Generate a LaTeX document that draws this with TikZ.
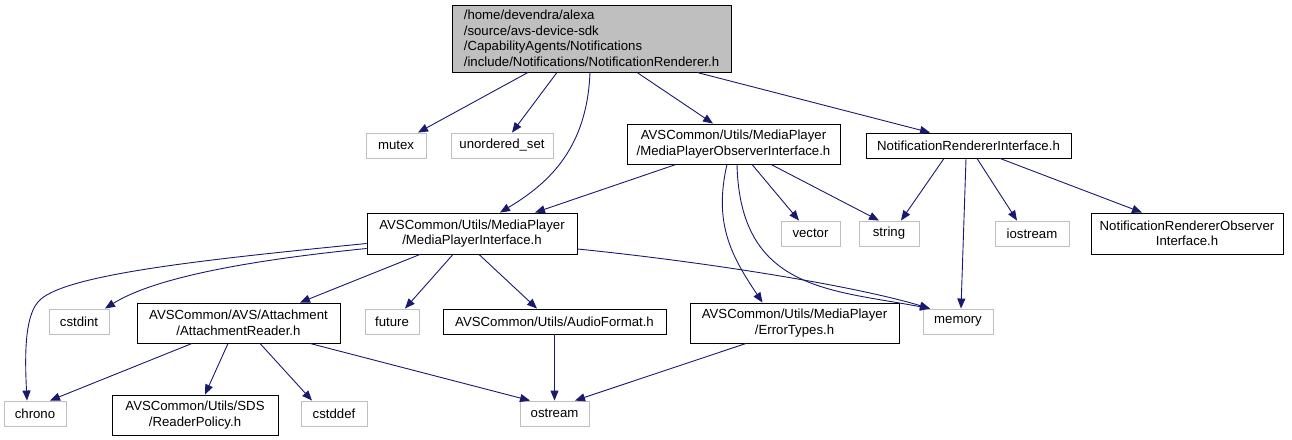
\documentclass[tikz,border=0pt]{standalone}
\usepackage{fontspec}
\setmainfont{Liberation Sans}
\usetikzlibrary{arrows.meta}
\definecolor{edgeblue}{HTML}{191970}
\definecolor{gborder}{HTML}{BFBFBF}
\definecolor{mainfill}{HTML}{BFBFBF}
\begin{document}
\begin{tikzpicture}[x=1pt,y=-1pt,
  box/.style={draw=black, line width=0.9pt, inner sep=0pt, align=center,
    font=\fontsize{13.2}{15.5}\selectfont},
  sys/.style={box, draw=gborder},
  dep/.style={draw=edgeblue, line width=0.9pt, -{Triangle[length=10pt,width=8pt]}}]
\useasboundingbox (0,0) rectangle (1292,439);

\node[box, fill=mainfill, align=left, minimum width=279pt, minimum height=67pt] (main) at (591.5,38.5)
  {/home/devendra/alexa\\/source/avs-device-sdk\\/CapabilityAgents/Notifications\\/include/Notifications/NotificationRenderer.h};

\node[sys, minimum width=60pt, minimum height=25pt] (mutex) at (396,145.5) {mutex};
\node[sys, minimum width=102pt, minimum height=25pt] (uset) at (502,145.5) {unordered\_set};
\node[box, minimum width=213pt, minimum height=40pt] (mpo) at (733.5,144) {AVSCommon/Utils/MediaPlayer\\/MediaPlayerObserverInterface.h};
\node[box, minimum width=205pt, minimum height=25pt] (nri) at (968.5,145.5) {NotificationRendererInterface.h};

\node[box, minimum width=210pt, minimum height=41pt] (mpi) at (472,233.5) {AVSCommon/Utils/MediaPlayer\\/MediaPlayerInterface.h};
\node[sys, minimum width=59pt, minimum height=25pt] (vector) at (810.5,233.5) {vector};
\node[sys, minimum width=60pt, minimum height=25pt] (string) at (889,233.5) {string};
\node[sys, minimum width=74pt, minimum height=25pt] (iostream) at (1032,233.5) {iostream};
\node[box, minimum width=192pt, minimum height=41pt] (nro) at (1187,233.5) {NotificationRendererObserver\\Interface.h};

\node[sys, minimum width=60pt, minimum height=25pt] (cstdint) at (79,321.5) {cstdint};
\node[box, minimum width=203pt, minimum height=40pt] (ar) at (238.5,323) {AVSCommon/AVS/Attachment\\/AttachmentReader.h};
\node[sys, minimum width=54pt, minimum height=25pt] (future) at (392,321.5) {future};
\node[box, minimum width=223pt, minimum height=25pt] (af) at (554.5,321.5) {AVSCommon/Utils/AudioFormat.h};
\node[box, minimum width=209pt, minimum height=40pt] (et) at (794.5,323) {AVSCommon/Utils/MediaPlayer\\/ErrorTypes.h};
\node[sys, minimum width=70pt, minimum height=25pt] (memory) at (958,321.5) {memory};

\node[sys, minimum width=62pt, minimum height=25pt] (chrono) at (35,413.5) {chrono};
\node[box, minimum width=166pt, minimum height=40pt] (rp) at (195,415) {AVSCommon/Utils/SDS\\/ReaderPolicy.h};
\node[sys, minimum width=66pt, minimum height=25pt] (cstddef) at (334,413.5) {cstddef};
\node[sys, minimum width=69pt, minimum height=25pt] (ostream) at (554.5,413.5) {ostream};

% main
\draw[dep] ([xshift=-63.5pt]main.south) -- ([xshift=22pt]mutex.north);
\draw[dep] ([xshift=-34.5pt]main.south) -- ([xshift=10pt]uset.north);
\draw[dep] ([xshift=-1.5pt]main.south) .. controls +(-3,75) and +(50,-30) .. ([xshift=28pt]mpi.north);
\draw[dep] ([xshift=45.5pt]main.south) -- ([xshift=-20.5pt]mpo.north);
\draw[dep] ([xshift=105.5pt]main.south) -- ([xshift=-38.5pt]nri.north);
% mpo
\draw[dep] ([xshift=-57.5pt]mpo.south) -- ([xshift=63pt]mpi.north);
\draw[dep] ([xshift=18.5pt]mpo.south) -- ([xshift=-11.5pt]vector.north);
\draw[dep] ([xshift=37.5pt]mpo.south) -- ([xshift=-10pt]string.north);
\draw[dep] ([xshift=-6.5pt]mpo.south) .. controls +(-14,60) and +(-30,-45) .. ([xshift=-32pt]et.north);
\draw[dep] ([xshift=3.5pt]mpo.south) .. controls +(3,126) and +(-100,-19) .. ([xshift=-28pt]memory.north);
% nri
\draw[dep] ([xshift=-24.5pt]nri.south) -- ([xshift=12pt]string.north);
\draw[dep] ([xshift=-2.5pt]nri.south) -- ([xshift=3pt]memory.north);
\draw[dep] ([xshift=8.5pt]nri.south) -- ([xshift=-15pt]iostream.north);
\draw[dep] ([xshift=31.5pt]nri.south) -- ([xshift=-45pt]nro.north);
% mpi
\draw[dep] ([yshift=-10pt]mpi.west) .. controls (200,260) and (60,275) .. (38,302)
  .. controls (24,318) and (25,360) .. ([xshift=-8pt]chrono.north);
\draw[dep] ([yshift=-15pt]mpi.west) .. controls +(-150,15) and +(40,-25) .. ([xshift=26pt]cstdint.north);
\draw[dep] ([xshift=-52pt]mpi.south) -- ([xshift=61.5pt]ar.north);
\draw[dep] ([xshift=-19pt]mpi.south) -- ([xshift=13pt]future.north);
\draw[dep] ([xshift=7pt]mpi.south) -- ([xshift=-17.5pt]af.north);
\draw[dep] ([yshift=-15.5pt]mpi.east) .. controls +(120,12) and +(-80,-24) .. ([xshift=-28pt]memory.north);
% ar
\draw[dep] ([xshift=-46.5pt]ar.south) -- ([xshift=15pt]chrono.north);
\draw[dep] ([xshift=-10.5pt]ar.south) -- ([xshift=10pt]rp.north);
\draw[dep] ([xshift=21.5pt]ar.south) -- ([xshift=-22pt]cstddef.north);
\draw[dep] ([xshift=71.5pt]ar.south) -- ([xshift=-24.5pt]ostream.north);
% af, et
\draw[dep] (af.south) -- (ostream.north);
\draw[dep] ([xshift=-48.5pt]et.south) -- ([xshift=20.5pt]ostream.north);
\end{tikzpicture}
\end{document}
